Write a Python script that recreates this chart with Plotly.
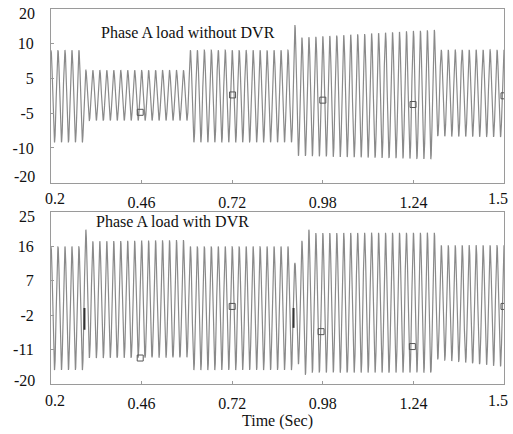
import numpy as np
import plotly.graph_objects as go

# ---------------- data ----------------
FREQ_HZ = 50.0
T_START, T_END = 0.2, 1.5

x_tick_vals = [0.2, 0.46, 0.72, 0.98, 1.24, 1.5]
x_tick_text = ["0.2", "0.46", "0.72", "0.98", "1.24", "1.5"]

top_y_tick_vals = [20, 12, 4, -4, -12, -20]
top_y_tick_text = ["20", "10", "5", "-5", "-10", "-20"]
bot_y_tick_vals = [25, 16, 7, -2, -11, -20]
bot_y_tick_text = ["25", "16", "7", "-2", "-11", "-20"]

# Phase A load without DVR: envelope segments (start/end time, upper & lower peaks)
top_seg_t0 = [0.200, 0.295, 0.595, 0.895, 1.305]
top_seg_t1 = [0.295, 0.595, 0.895, 1.305, 1.500]
top_up0 = [10.5, 5.9, 10.5, 13.3, 10.6]
top_up1 = [10.5, 5.9, 10.5, 15.2, 10.6]
top_lo0 = [-10.7, -5.7, -10.7, -13.8, -9.3]
top_lo1 = [-10.7, -5.7, -10.7, -14.6, -9.5]
top_peak_t = [0.90]
top_peak_v = [16.3]
top_marker_t = [0.456, 0.721, 0.98, 1.239, 1.5]
top_marker_v = [-3.8, 0.2, -1.0, -2.0, 0.0]

# Phase A load with DVR
bot_seg_t0 = [0.200, 0.295, 0.595, 0.895, 1.305]
bot_seg_t1 = [0.295, 0.595, 0.895, 1.305, 1.500]
bot_up0 = [16.0, 17.3, 16.0, 19.5, 16.3]
bot_up1 = [16.0, 17.7, 16.0, 19.6, 16.3]
bot_lo0 = [-16.3, -13.2, -16.3, -17.0, -13.5]
bot_lo1 = [-16.3, -13.0, -16.3, -17.0, -15.5]
bot_peak_t = [0.30, 0.90, 0.91, 0.92, 0.93, 0.94]
bot_peak_v = [20.4, 11.7, -14.8, 17.5, -17.6, 20.4]
bot_glitch_t = [0.296, 0.896]
bot_glitch_hi = [-0.1, -0.1]
bot_glitch_lo = [-5.8, -5.3]
bot_marker_t = [0.456, 0.72, 0.975, 1.237, 1.5]
bot_marker_v = [-13.2, 0.3, -6.3, -10.2, 0.3]

titles = ["Phase A load without DVR", "Phase A load with DVR"]
x_title = "Time (Sec)"


def build_wave(t0s, t1s, up0, up1, lo0, lo1, peak_t, peak_v, dt=0.0001):
    t = np.arange(T_START, T_END + dt / 2, dt)
    upper = np.zeros_like(t)
    lower = np.zeros_like(t)
    for a, b, u0, u1, l0, l1 in zip(t0s, t1s, up0, up1, lo0, lo1):
        m = (t >= a - 1e-9) & (t <= b + 1e-9)
        f = (t[m] - a) / (b - a)
        upper[m] = u0 + (u1 - u0) * f
        lower[m] = l0 + (l1 - l0) * f
    half = 0.5 / FREQ_HZ / 2
    for pt, pv in zip(peak_t, peak_v):
        m = np.abs(t - pt) <= half
        if pv > 0:
            upper[m] = pv
        else:
            lower[m] = pv
    c = np.cos(2 * np.pi * FREQ_HZ * t)
    y = np.where(c >= 0, upper, -lower) * c
    return t, y


LINE_COLOR = "#8a8a8a"
FRAME_COLOR = "#9a9a9a"
FONT = "Liberation Serif"
TXT = "#111"
LAB_FONT = dict(family=FONT, size=16, color=TXT)

fig = go.Figure()

t1, y1 = build_wave(top_seg_t0, top_seg_t1, top_up0, top_up1, top_lo0, top_lo1, top_peak_t, top_peak_v)
t2, y2 = build_wave(bot_seg_t0, bot_seg_t1, bot_up0, bot_up1, bot_lo0, bot_lo1, bot_peak_t, bot_peak_v)

fig.add_trace(go.Scatter(x=t1, y=y1, mode="lines", line=dict(color=LINE_COLOR, width=1.2),
                         xaxis="x", yaxis="y", showlegend=False, hoverinfo="skip"))
fig.add_trace(go.Scatter(x=top_marker_t, y=top_marker_v, mode="markers",
                         marker=dict(symbol="square-open", size=6, color="#555", line=dict(width=1)),
                         xaxis="x", yaxis="y", showlegend=False))

fig.add_trace(go.Scatter(x=t2, y=y2, mode="lines", line=dict(color=LINE_COLOR, width=1.2),
                         xaxis="x2", yaxis="y2", showlegend=False, hoverinfo="skip"))
for gt, ghi, glo in zip(bot_glitch_t, bot_glitch_hi, bot_glitch_lo):
    fig.add_trace(go.Scatter(x=[gt, gt], y=[ghi, glo], mode="lines",
                             line=dict(color="#333", width=2),
                             xaxis="x2", yaxis="y2", showlegend=False))
fig.add_trace(go.Scatter(x=bot_marker_t, y=bot_marker_v, mode="markers",
                         marker=dict(symbol="square-open", size=6, color="#555", line=dict(width=1)),
                         xaxis="x2", yaxis="y2", showlegend=False))

# axis tick labels: the edge labels are nudged inward like the reference (as annotations)
inner_x_text = [""] + x_tick_text[1:-1] + [""]
inner_top_y_text = [""] + top_y_tick_text[1:-1] + [""]
inner_bot_y_text = [""] + bot_y_tick_text[1:-1] + [""]

axis_common = dict(showline=True, linecolor=FRAME_COLOR, linewidth=1, mirror=True,
                   showgrid=False, zeroline=False, ticks="inside", ticklen=3, automargin=False,
                   tickcolor=FRAME_COLOR, tickfont=LAB_FONT)

XLAB_STANDOFF = 5
annotations = [
    dict(text=titles[0], xref="x", yref="y", x=0.338, y=14.6, xanchor="left", yanchor="middle",
         showarrow=False, font=LAB_FONT),
    dict(text=titles[1], xref="x2", yref="y2", x=0.322, y=22.6, xanchor="left", yanchor="middle",
         showarrow=False, font=LAB_FONT),
]
for xa, ya in (("x", "y domain"), ("x2", "y2 domain")):
    annotations.append(dict(text=x_tick_text[0], xref=xa, yref=ya, x=x_tick_vals[0], y=0,
                            xanchor="center", yanchor="middle", xshift=4, yshift=-16, showarrow=False,
                            font=LAB_FONT))
    annotations.append(dict(text=x_tick_text[-1], xref=xa, yref=ya, x=x_tick_vals[-1], y=0,
                            xanchor="center", yanchor="middle", xshift=-6, yshift=-16, showarrow=False,
                            font=LAB_FONT))
for xa, ya, vals, texts, top_shift, bot_shift in (
        ("x domain", "y", top_y_tick_vals, top_y_tick_text, -4, 6),
        ("x2 domain", "y2", bot_y_tick_vals, bot_y_tick_text, -4, 4)):
    annotations.append(dict(text=texts[0], xref=xa, yref=ya, x=0, y=vals[0],
                            xanchor="right", yanchor="middle", xshift=-14, yshift=top_shift,
                            showarrow=False, font=LAB_FONT))
    annotations.append(dict(text=texts[-1], xref=xa, yref=ya, x=0, y=vals[-1],
                            xanchor="right", yanchor="middle", xshift=-14, yshift=bot_shift,
                            showarrow=False, font=LAB_FONT))

fig.update_layout(
    width=513, height=434,
    margin=dict(l=51, r=9, t=9, b=50),
    paper_bgcolor="white", plot_bgcolor="white",
    font=LAB_FONT,
    xaxis=dict(domain=[0, 1], anchor="y", range=[T_START, T_END],
               tickvals=x_tick_vals, ticktext=inner_x_text, ticklabelstandoff=XLAB_STANDOFF, **axis_common),
    yaxis=dict(domain=[0.537, 1], anchor="x", range=[-20, 20],
               tickvals=top_y_tick_vals, ticktext=inner_top_y_text, ticklabelstandoff=13, **axis_common),
    xaxis2=dict(domain=[0, 1], anchor="y2", range=[T_START, T_END],
                tickvals=x_tick_vals, ticktext=inner_x_text, ticklabelstandoff=XLAB_STANDOFF,
                title=dict(text=x_title, font=LAB_FONT, standoff=0),
                **axis_common),
    yaxis2=dict(domain=[0, 0.4585], anchor="x2", range=[-20, 25],
                tickvals=bot_y_tick_vals, ticktext=inner_bot_y_text, ticklabelstandoff=13, **axis_common),
    annotations=annotations,
)

fig.write_html("out.html", config={"displayModeBar": False},
               post_script="document.body.style.margin='0';document.body.style.overflow='hidden';")
